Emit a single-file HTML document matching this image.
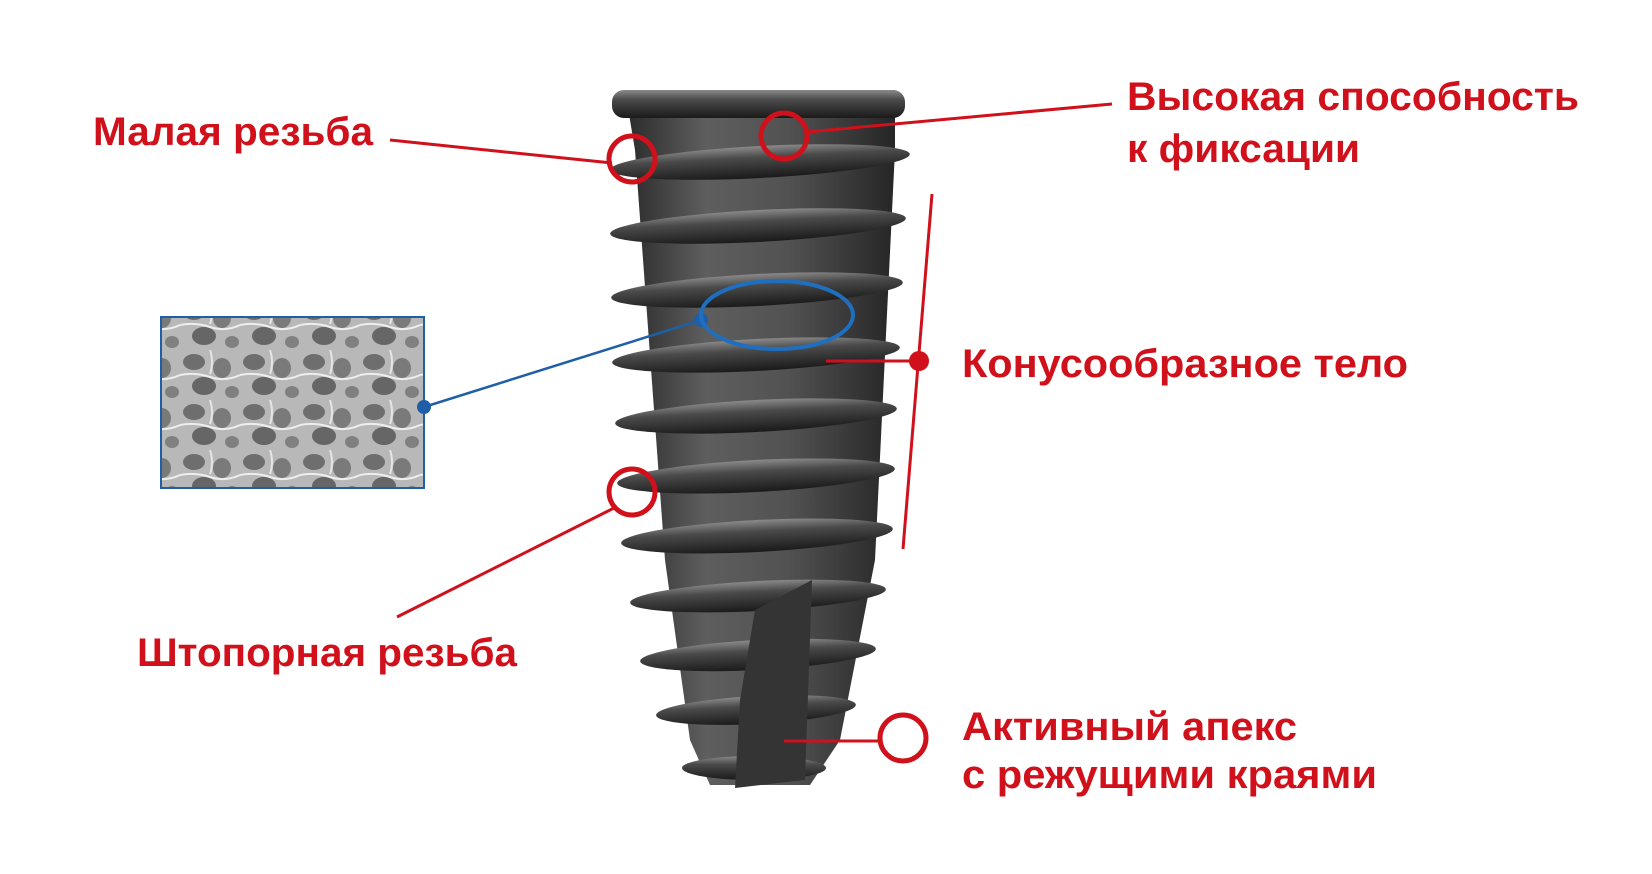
<!DOCTYPE html>
<html><head><meta charset="utf-8"><style>
html,body{margin:0;padding:0;background:#fff;}
svg{display:block}
text{font-family:"Liberation Sans",sans-serif;font-weight:bold;fill:#d0101a;font-size:40px}
</style></head><body>
<svg width="1652" height="874" viewBox="0 0 1652 874" xmlns="http://www.w3.org/2000/svg">
<defs>
<linearGradient id="body" x1="0" x2="1" y1="0" y2="0">
<stop offset="0" stop-color="#2a2a2a"/><stop offset="0.3" stop-color="#5e5e5e"/><stop offset="0.6" stop-color="#525252"/><stop offset="1" stop-color="#262626"/>
</linearGradient>
<linearGradient id="fin" x1="0" x2="0" y1="0" y2="1">
<stop offset="0" stop-color="#8a8a8a"/><stop offset="0.35" stop-color="#4a4a4a"/><stop offset="1" stop-color="#1a1a1a"/>
</linearGradient>
<pattern id="pores" width="60" height="50" patternUnits="userSpaceOnUse">
<rect width="60" height="50" fill="#b8b8b8"/>
<ellipse cx="14" cy="12" rx="11" ry="8" fill="#6e6e6e"/>
<ellipse cx="42" cy="18" rx="9" ry="10" fill="#7a7a7a"/>
<ellipse cx="24" cy="36" rx="12" ry="9" fill="#666"/>
<ellipse cx="52" cy="42" rx="7" ry="6" fill="#808080"/>
<path d="M0 25 Q15 22 30 27 T60 25" stroke="#eee" stroke-width="2" fill="none"/>
<path d="M30 0 Q34 12 30 24" stroke="#e6e6e6" stroke-width="2" fill="none"/>
</pattern>
</defs>

<polygon points="625,90 895,90 895,150 875,560 840,740 810,785 710,785 690,740 665,560 635,150" fill="url(#body)"/>
<g fill="url(#fin)">
<rect x="612" y="90" width="293" height="28" rx="12"/>
<ellipse cx="760" cy="162" rx="150" ry="16" transform="rotate(-3 760 162)"/>
<ellipse cx="758" cy="226" rx="148" ry="16" transform="rotate(-3 758 226)"/>
<ellipse cx="757" cy="290" rx="146" ry="16" transform="rotate(-3 757 290)"/>
<ellipse cx="756" cy="355" rx="144" ry="16" transform="rotate(-3 756 355)"/>
<ellipse cx="756" cy="416" rx="141" ry="16" transform="rotate(-3 756 416)"/>
<ellipse cx="756" cy="476" rx="139" ry="16" transform="rotate(-3 756 476)"/>
<ellipse cx="757" cy="536" rx="136" ry="16" transform="rotate(-3 757 536)"/>
<ellipse cx="758" cy="596" rx="128" ry="15" transform="rotate(-3 758 596)"/>
<ellipse cx="758" cy="655" rx="118" ry="15" transform="rotate(-3 758 655)"/>
<ellipse cx="756" cy="710" rx="100" ry="14" transform="rotate(-3 756 710)"/>
<ellipse cx="754" cy="768" rx="72" ry="12"/>
</g>
<polygon points="755,610 812,580 805,780 735,788 740,700" fill="#343434"/>

<rect x="161" y="317" width="263" height="171" fill="url(#pores)" stroke="#1e5fa8" stroke-width="2"/>

<line x1="424" y1="407" x2="701" y2="320" stroke="#1e5fa8" stroke-width="2.5"/>
<circle cx="424" cy="407" r="7" fill="#1e5fa8"/>
<circle cx="701" cy="320" r="7" fill="#1e5fa8"/>
<ellipse cx="777" cy="315" rx="76" ry="34" fill="none" stroke="#1e6fc0" stroke-width="4"/>

<g stroke="#d0101a" stroke-width="3" fill="none">
<line x1="390" y1="140" x2="612" y2="163"/>
<circle cx="632" cy="159" r="23" stroke-width="5"/>
<line x1="807" y1="132" x2="1112" y2="104"/>
<circle cx="784" cy="136" r="23" stroke-width="5"/>
<line x1="932" y1="194" x2="903" y2="549"/>
<line x1="826" y1="361" x2="919" y2="361"/>
<line x1="614" y1="508" x2="397" y2="617"/>
<circle cx="632" cy="492" r="23" stroke-width="5"/>
<line x1="784" y1="741" x2="880" y2="741"/>
<circle cx="903" cy="738" r="23" stroke-width="5"/>
</g>
<circle cx="919" cy="361" r="10" fill="#d0101a"/>

<text x="93" y="145" textLength="280" lengthAdjust="spacingAndGlyphs">Малая резьба</text>
<text x="1127" y="110" textLength="452" lengthAdjust="spacingAndGlyphs">Высокая способность</text>
<text x="1127" y="162" textLength="233" lengthAdjust="spacingAndGlyphs">к фиксации</text>
<text x="962" y="377" textLength="446" lengthAdjust="spacingAndGlyphs">Конусообразное тело</text>
<text x="137" y="666" textLength="380" lengthAdjust="spacingAndGlyphs">Штопорная резьба</text>
<text x="962" y="740" textLength="335" lengthAdjust="spacingAndGlyphs">Активный апекс</text>
<text x="962" y="788" textLength="415" lengthAdjust="spacingAndGlyphs">с режущими краями</text>
</svg>
</body></html>
